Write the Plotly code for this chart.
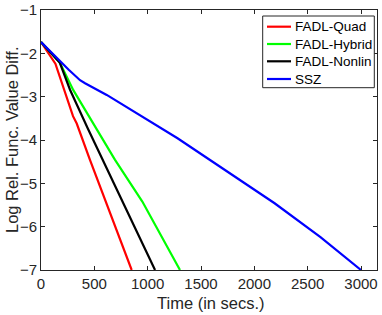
import plotly.graph_objects as go

# Data
quad_t = [0, 135, 300, 318, 335, 459, 850]
quad_v = [-1.74, -2.24, -3.45, -3.55, -3.62, -4.46, -7.0]

hybrid_t = [0, 175, 303, 520, 540, 694, 950, 1303]
hybrid_v = [-1.74, -2.21, -2.85, -3.73, -3.82, -4.46, -5.42, -7.0]

nonlin_t = [0, 175, 272, 440, 1069]
nonlin_v = [-1.74, -2.21, -2.84, -3.74, -7.0]

ssz_t = [0, 150, 260, 366, 413, 616, 1280, 2190, 2620, 3000]
ssz_v = [-1.74, -2.12, -2.38, -2.62, -2.69, -2.96, -3.96, -5.46, -6.24, -7.0]

x_ticks = [0, 500, 1000, 1500, 2000, 2500, 3000]
y_ticks = [-7, -6, -5, -4, -3, -2, -1]

series = [
    ("FADL-Quad", quad_t, quad_v, "#ff0000"),
    ("FADL-Hybrid", hybrid_t, hybrid_v, "#00ff00"),
    ("FADL-Nonlin", nonlin_t, nonlin_v, "#000000"),
    ("SSZ", ssz_t, ssz_v, "#0000ff"),
]

axis_col = "#262626"
font_family = "Liberation Sans, Arial, Helvetica, sans-serif"

fig = go.Figure()
for name, xs, ys, col in series:
    fig.add_trace(go.Scatter(x=xs, y=ys, mode="lines", name=name,
                             line=dict(color=col, width=2.2), showlegend=False,
                             hoverinfo="skip"))

# Manual MATLAB-style legend box (paper coordinates)
shapes = [dict(type="rect", xref="paper", yref="paper",
               x0=0.6598, x1=0.992, y0=0.7012, y1=0.9769,
               line=dict(color=axis_col, width=1), fillcolor="white", layer="above")]
annotations = []
entry_y = [0.9358, 0.8692, 0.8027, 0.7346]
for (name, xs, ys, col), ey in zip(series, entry_y):
    shapes.append(dict(type="line", xref="paper", yref="paper",
                       x0=0.6726, x1=0.744, y0=ey, y1=ey,
                       line=dict(color=col, width=2.2), layer="above"))
    annotations.append(dict(xref="paper", yref="paper", x=0.749, y=ey,
                            xanchor="left", yanchor="middle", showarrow=False,
                            text=name, font=dict(size=13.5, color="#000000")))

# Axis titles
annotations.append(dict(xref="paper", yref="paper", x=0.507, y=-0.127,
                        xanchor="center", yanchor="middle", showarrow=False,
                        text="Time (in secs.)", font=dict(size=16.5, color=axis_col)))
annotations.append(dict(xref="paper", yref="paper", x=-0.0863, y=0.5,
                        xanchor="center", yanchor="middle", showarrow=False,
                        textangle=-90,
                        text="Log Rel. Func. Value Diff.", font=dict(size=16.5, color=axis_col)))

fig.update_layout(
    width=382, height=315,
    margin=dict(l=41, r=5, t=10, b=45),
    paper_bgcolor="white", plot_bgcolor="white",
    font=dict(family=font_family, size=15, color=axis_col),
    showlegend=False,
    hovermode=False,
    shapes=shapes,
    annotations=annotations,
    xaxis=dict(range=[0, 3150], tickvals=x_ticks, ticks="inside", ticklen=4,
               tickcolor=axis_col, showline=True, linecolor=axis_col,
               linewidth=1, mirror="allticks", showgrid=False, zeroline=False,
               automargin=False, tickfont=dict(size=15)),
    yaxis=dict(range=[-7, -1], tickvals=y_ticks, ticks="inside", ticklen=4,
               tickcolor=axis_col, showline=True, linecolor=axis_col,
               linewidth=1, mirror="allticks", showgrid=False, zeroline=False,
               automargin=False, tickfont=dict(size=15)),
)

fig.write_html("out.html",
               config={"displayModeBar": False, "staticPlot": True},
               post_script="document.body.style.margin='0';document.body.style.padding='0';")
